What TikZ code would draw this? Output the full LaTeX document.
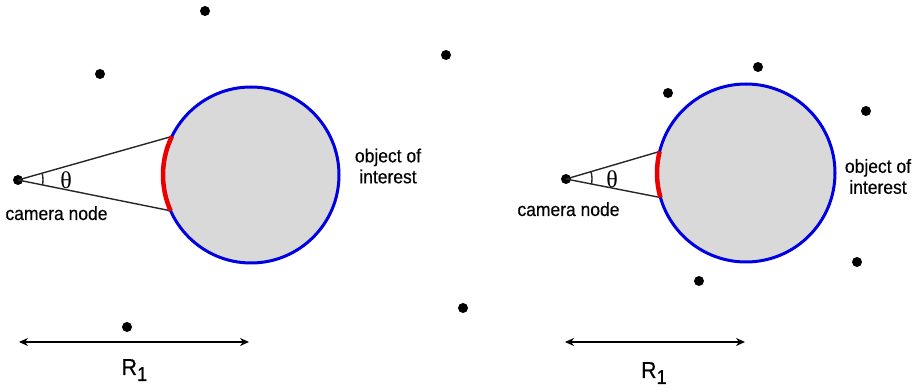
\documentclass[tikz,border=0pt]{standalone}
\usepackage{fontspec}
\setmainfont[FakeStretch=0.92,FakeBold=0.4]{Liberation Sans}
\newfontfamily\thetafont{Liberation Serif}
\usetikzlibrary{arrows.meta,angles}
\definecolor{objblue}{RGB}{0,0,225}
\definecolor{objgray}{RGB}{217,217,217}
\definecolor{viewred}{RGB}{235,0,0}
\tikzset{
  sensor/.style={circle,fill=black,inner sep=0pt,minimum size=10pt},
  object/.style={circle,draw=objblue,fill=objgray,line width=3pt,inner sep=0pt,outer sep=0pt},
  viewarc/.style={draw=viewred,line width=4.5pt},
  sight/.style={line width=1.4pt,draw=black!85},
  spanarrow/.style={line width=1.4pt,{Stealth[length=9pt,width=8pt]}-{Stealth[length=9pt,width=8pt]}},
  ttl/.style={inner sep=0pt,font=\fontsize{19}{21}\selectfont},
  greek/.style={inner sep=0pt,font=\fontsize{24}{26}\selectfont\thetafont},
  rlabel/.style={anchor=base,inner sep=0pt,font=\fontsize{23}{26}\selectfont},
}
\newcommand{\rone}{R\raisebox{-6pt}{\fontsize{20}{22}\selectfont 1}}

\begin{document}
\begin{tikzpicture}[x=1pt,y=1pt]
\useasboundingbox (0,0) rectangle (922,391);
% left picture
\node[object,minimum size=176pt] (objA) at (251,216) {};
\node[sensor] (camA) at (18,211) {};
\coordinate (upA) at (objA.154);
\coordinate (lowA) at (objA.204);
\draw[sight] (camA.center) -- (upA);
\draw[sight] (camA.center) -- (lowA);
\draw[viewarc] (upA) arc[start angle=154,end angle=204,radius=88pt];
\pic[draw,sight,angle radius=25pt] {angle=lowA--camA--upA};
\node[greek] (thA) at (66,211) {θ};
\node[ttl,anchor=base] (camtxtA) at (56.5,171) {camera node};
\node[ttl,align=center] (objtxtA) at (388,225) {object of\\interest};
\foreach \p [count=\i] in {(205,380),(100,317),(446,336),(127,64),(463,83)}
  \node[sensor] (ptA\i) at \p {};
\coordinate (rAl) at (19,49);
\coordinate (rAr) at (249,49);
\draw[spanarrow] (rAl) -- (rAr);
\node[rlabel] (rA) at (134.5,16) {\rone};
% right picture
\node[object,minimum size=178pt] (objB) at (746,218) {};
\node[sensor] (camB) at (566,212) {};
\coordinate (upB) at (objB.166);
\coordinate (lowB) at (objB.196);
\draw[sight] (camB.center) -- (upB);
\draw[sight] (camB.center) -- (lowB);
\draw[viewarc] (upB) arc[start angle=166,end angle=196,radius=89pt];
\pic[draw,sight,angle radius=26pt] {angle=lowB--camB--upB};
\node[greek] (thB) at (612,212) {θ};
\node[ttl,anchor=base] (camtxtB) at (568.5,175) {camera node};
\node[ttl,align=center] (objtxtB) at (878,214.5) {object of\\interest};
\foreach \p [count=\i] in {(668,298),(758,324),(866,280),(857,129),(699,110)}
  \node[sensor] (ptB\i) at \p {};
\coordinate (rBl) at (565,49);
\coordinate (rBr) at (745,49);
\draw[spanarrow] (rBl) -- (rBr);
\node[rlabel] (rB) at (654,13) {\rone};
\end{tikzpicture}
\end{document}
